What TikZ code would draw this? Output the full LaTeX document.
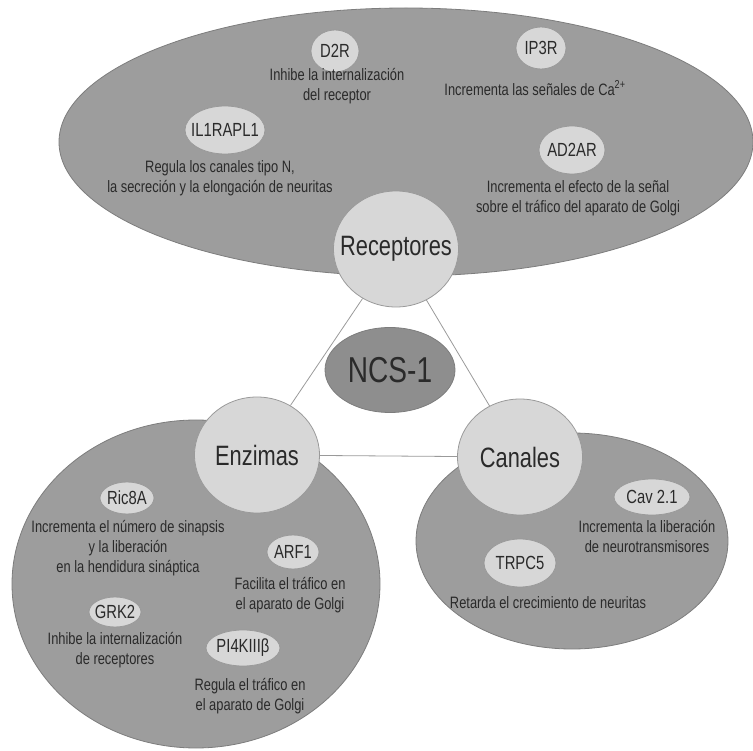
\documentclass[tikz,border=0pt]{standalone}
\usepackage{fontspec}
\setmainfont{Liberation Sans}[FakeStretch=0.78]
\usetikzlibrary{shapes,positioning}
\definecolor{grpgray}{HTML}{9D9D9D}
\definecolor{grpline}{HTML}{7D7D7D}
\definecolor{hubgray}{HTML}{D7D7D7}
\definecolor{hubline}{HTML}{9A9A9A}
\definecolor{coregray}{HTML}{8E8E8E}
\definecolor{txtgray}{HTML}{2A2A2A}
\tikzset{
  grp/.style n args={2}{ellipse,fill=grpgray,draw=grpline,line width=0.8pt,inner sep=0pt,minimum width=#1,minimum height=#2},
  hub/.style={ellipse,fill=hubgray,draw=hubline,line width=0.8pt,inner sep=0pt,minimum width=125pt,minimum height=116pt},
  sub/.style n args={2}{ellipse,fill=hubgray,draw=hubline,line width=0.8pt,inner sep=0pt,minimum width=#1,minimum height=#2},
  big/.style={text=txtgray,font=\fontsize{28}{30}\selectfont},
  tag/.style={text=txtgray,font=\fontsize{19}{22}\selectfont},
  desc/.style={align=center,text=txtgray,font=\fontsize{16.5}{20}\selectfont,inner sep=0pt},
  link/.style={draw=hubline,line width=0.8pt}
}
\begin{document}
\begin{tikzpicture}[x=1pt,y=-1pt]
\useasboundingbox (0,0) rectangle (753,751);
\node[grp={694pt}{268pt}] (recgrp) at (406,142) {};
\node[grp={368pt}{328pt}] (enzgrp) at (196,584) {};
\node[grp={312pt}{216pt}] (cangrp) at (572,541) {};

\node[hub,label={[big]center:Receptores}] (rec) at (396,249) {};
\node[hub,label={[big]center:Enzimas}] (enz) at (257,455) {};
\node[hub,label={[big]center:Canales}] (can) at (520,457) {};
\draw[link] (rec) -- (enz);
\draw[link] (rec) -- (can);
\draw[link] (enz) -- (can);

\node[ellipse,fill=coregray,draw=grpline,line width=0.8pt,minimum width=130pt,minimum height=85pt,inner sep=0pt,
  label={[text=txtgray,font=\fontsize{36}{40}\selectfont]center:NCS-1}] (ncs) at (390,370) {};

\node[sub={48pt}{42pt},label={[tag]center:D2R}] (d2r) at (335,51) {};
\node[desc] (d2rtxt) at (337,86) {Inhibe la internalización\\del receptor};
\node[sub={50pt}{42pt},label={[tag]center:IP3R}] (ip3r) at (541,48) {};
\node[desc] (ip3rtxt) at (535,88) {Incrementa las señales de Ca\textsuperscript{2+}};
\node[sub={80pt}{48pt},label={[tag]center:IL1RAPL1}] (il1) at (225,130) {};
\node[desc] (il1txt) at (220,178) {Regula los canales tipo N,\\la secreción y la elongación de neuritas};
\node[sub={66pt}{48pt},label={[tag]center:AD2AR}] (ad2ar) at (572,150) {};
\node[desc] (ad2artxt) at (578,198) {Incrementa el efecto de la señal\\sobre el tráfico del aparato de Golgi};

\node[sub={54pt}{32pt},label={[tag]center:Ric8A}] (ric) at (127,498) {};
\node[desc] (rictxt) at (128,548) {Incrementa el número de sinapsis\\y la liberación\\en la hendidura sináptica};
\node[sub={52pt}{34pt},label={[tag]center:ARF1}] (arf) at (293,552) {};
\node[desc] (arftxt) at (290,595) {Facilita el tráfico en\\el aparato de Golgi};
\node[sub={52pt}{30pt},label={[tag]center:GRK2}] (grk) at (115,612) {};
\node[desc] (grktxt) at (115,650) {Inhibe la internalización\\de receptores};
\node[sub={74pt}{36pt},label={[tag]center:PI4KIIIβ}] (pik) at (243,648) {};
\node[desc] (piktxt) at (250,696) {Regula el tráfico en\\el aparato de Golgi};

\node[sub={76pt}{36pt},label={[tag]center:Cav 2.1}] (cav) at (652,497) {};
\node[desc] (cavtxt) at (647,537) {Incrementa la liberación\\de neurotransmisores};
\node[sub={72pt}{48pt},label={[tag]center:TRPC5}] (trp) at (520,563) {};
\node[desc] (trptxt) at (548,603) {Retarda el crecimiento de neuritas};
\end{tikzpicture}
\end{document}
